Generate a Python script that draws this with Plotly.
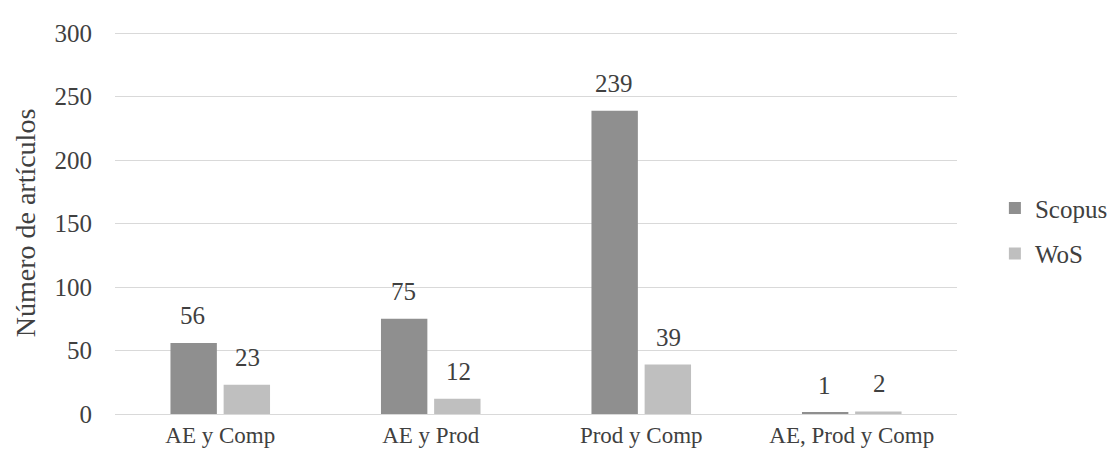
import plotly.graph_objects as go

categories = ["AE y Comp", "AE y Prod", "Prod y Comp", "AE, Prod y Comp"]
scopus = [56, 75, 239, 1]
wos = [23, 12, 39, 2]
y_ticks = [0, 50, 100, 150, 200, 250, 300]

FONT = "Liberation Serif"
TXT = "#404040"
COL_SCOPUS = "#8f8f8f"
COL_WOS = "#bfbfbf"

fig = go.Figure()
fig.add_trace(go.Bar(name="Scopus", x=categories, y=scopus,
                     marker=dict(color=COL_SCOPUS, line=dict(width=0)),
                     legendgroup="a"))
fig.add_trace(go.Bar(name="WoS", x=categories, y=wos,
                     marker=dict(color=COL_WOS, line=dict(width=0)),
                     legendgroup="b"))

# value labels above each bar (offset = half a bar slot)
for vals, shift in ((scopus, -27.5), (wos, 27.5)):
    for c, v in zip(categories, vals):
        fig.add_annotation(x=c, y=v, text=str(v), showarrow=False,
                           xshift=shift, yshift=12, yanchor="bottom",
                           font=dict(family=FONT, size=25, color=TXT))

fig.update_layout(
    width=1117, height=452,
    margin=dict(l=107, r=139, t=24, b=42),
    paper_bgcolor="white", plot_bgcolor="white",
    font=dict(family=FONT, size=24, color=TXT),
    barmode="group", bargap=0.495, bargroupgap=0.127,
    showlegend=True,
    legend=dict(x=1.045, y=0.48, xanchor="left", yanchor="middle",
                font=dict(family=FONT, size=25, color=TXT),
                tracegroupgap=10, traceorder="grouped",
                itemwidth=30, borderwidth=0, bgcolor="rgba(0,0,0,0)"),
    xaxis=dict(showgrid=False, showline=True, linecolor="#d9d9d9", linewidth=1,
               ticks="", tickfont=dict(family=FONT, size=23, color=TXT)),
    yaxis=dict(range=[0, 301], tickvals=y_ticks, showgrid=True,
               gridcolor="#d9d9d9", gridwidth=1, zeroline=False,
               ticks="", ticklen=0, ticklabelstandoff=22,
               tickfont=dict(family=FONT, size=25, color=TXT),
               title=dict(text="Número de artículos", standoff=10,
                          font=dict(family=FONT, size=28, color=TXT))),
)

fig.write_html("out.html")
